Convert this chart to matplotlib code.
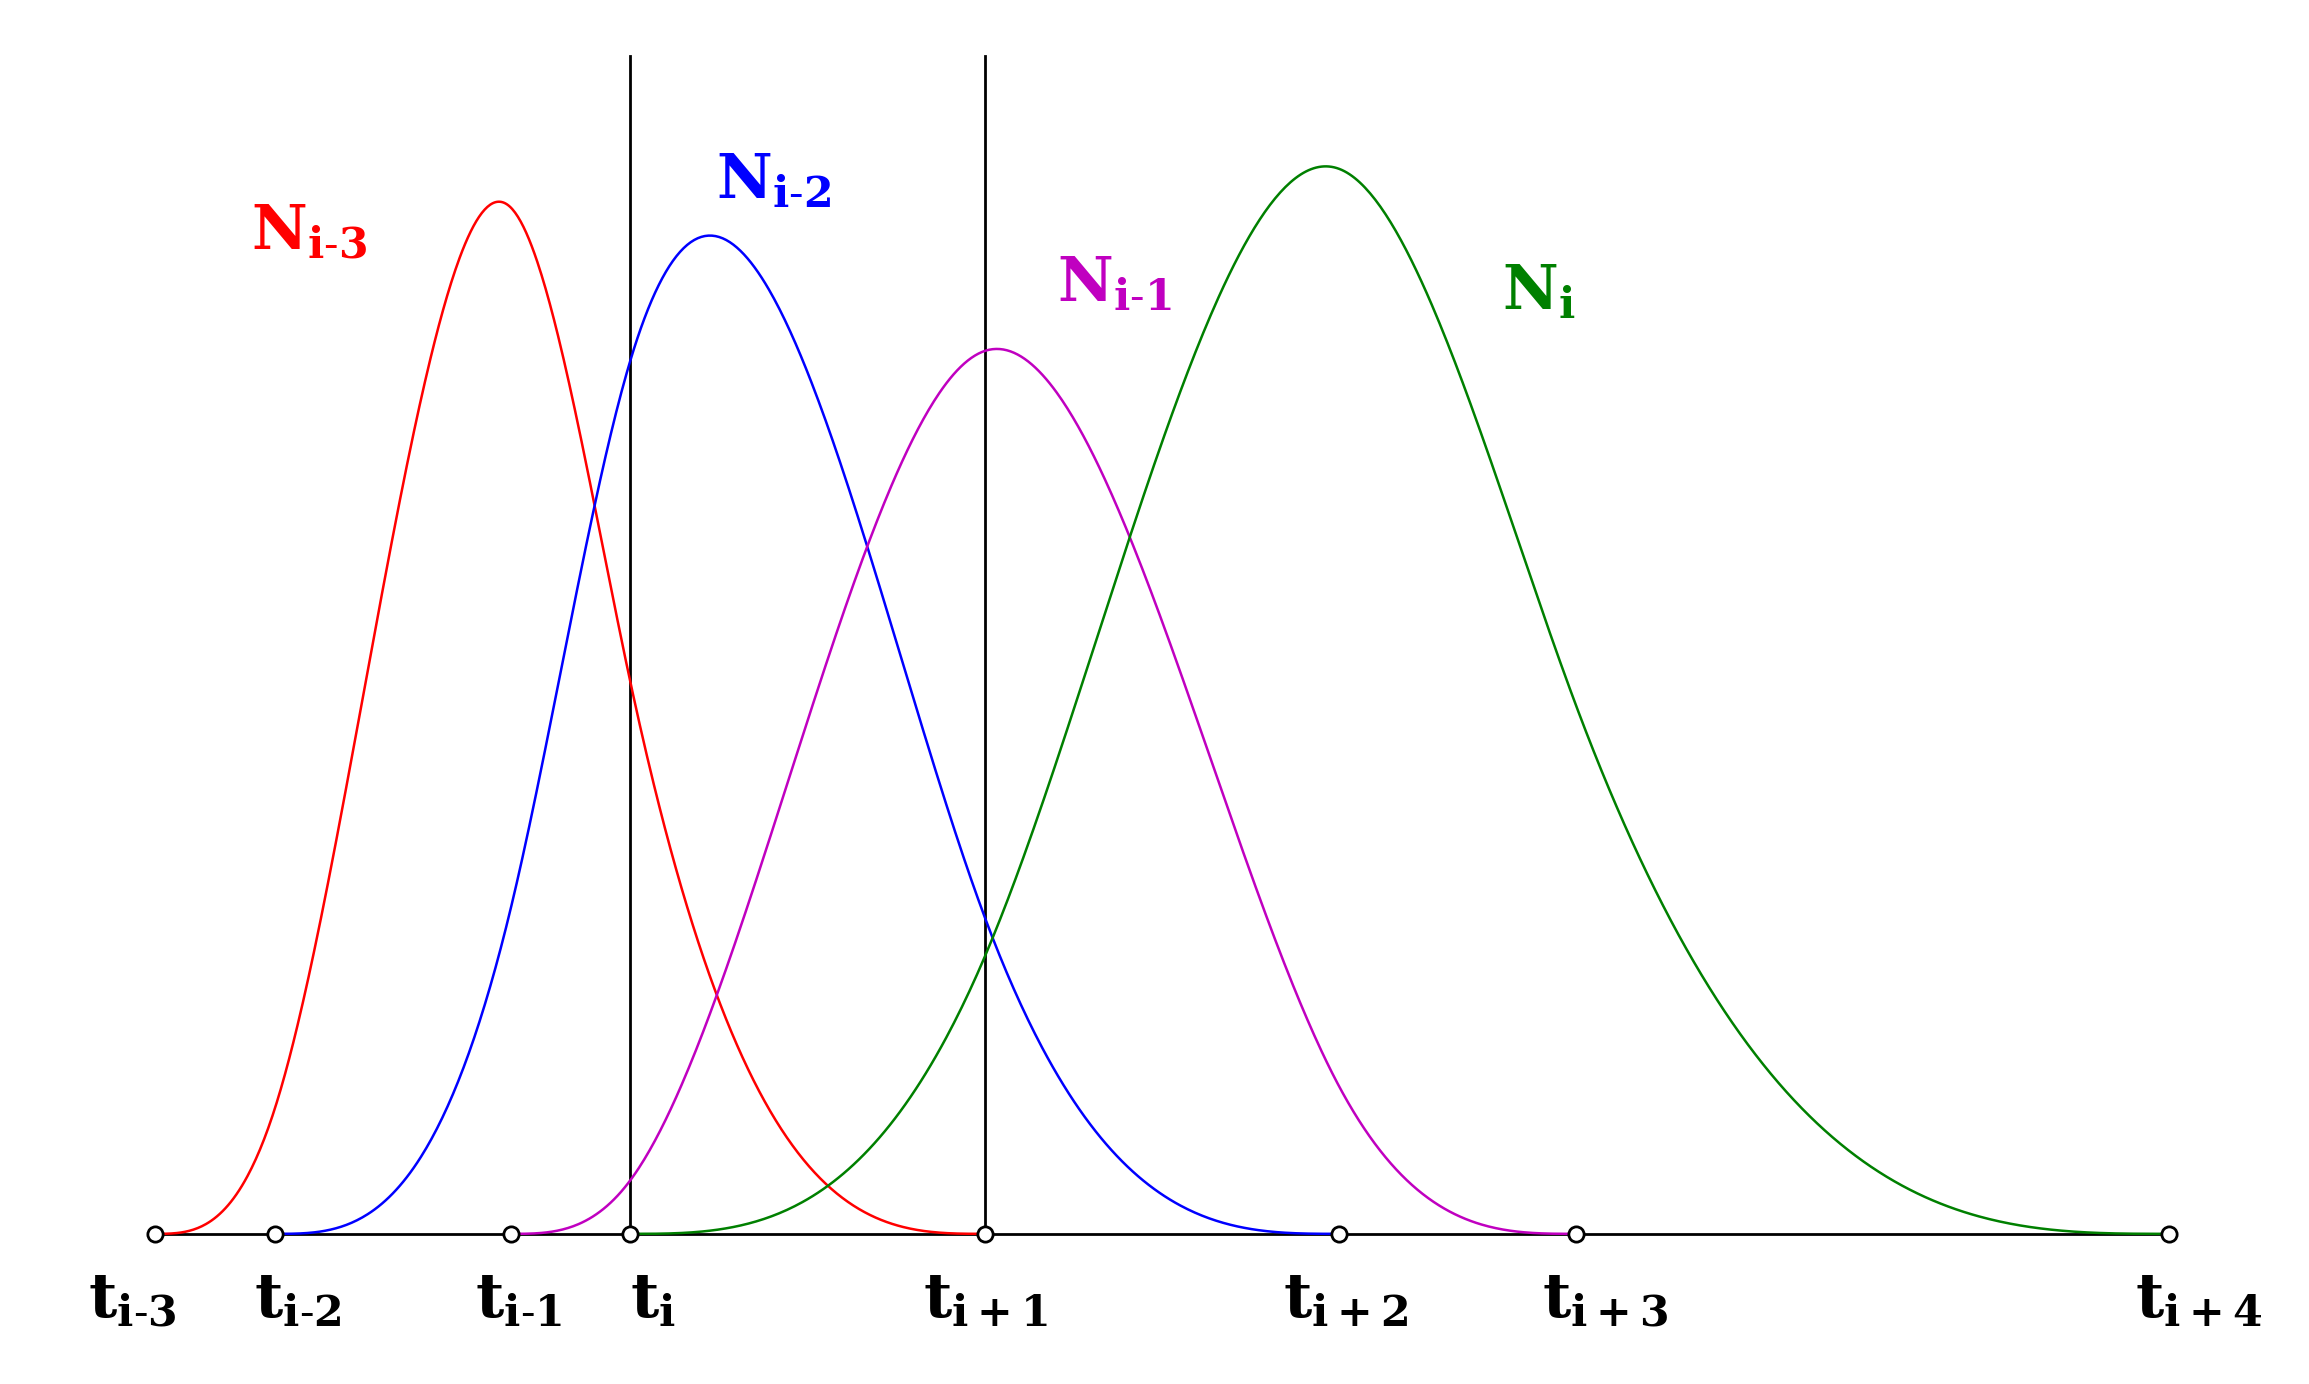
import numpy as np
import matplotlib.pyplot as plt

plt.rcParams['mathtext.fontset'] = 'dejavuserif'

# knot positions (picture units) and labels
knots = [105, 187, 347, 428, 669, 909, 1070, 1473]
knot_labels = ['i-3', 'i-2', 'i-1', 'i', 'i+1', 'i+2', 'i+3', 'i+4']
label_shift = [-15, 15, 5, 0, 0, 5, 20, 20]
# basis names, peak heights, colours, label positions
basis_names = ['i-3', 'i-2', 'i-1', 'i']
peak_heights = [701, 678, 601, 725]
colors = ['#ff0000', '#0000ff', '#c000c0', '#008000']
name_pos = [(210, 680), (525, 715), (757, 645), (1045, 640)]


def bspline(t, k, x):
    # Cox-de Boor, degree 3, support t[k]..t[k+4]
    def N(j, p):
        if p == 0:
            return ((x >= t[j]) & (x < t[j + 1])).astype(float)
        a = (x - t[j]) / (t[j + p] - t[j]) * N(j, p - 1)
        b = (t[j + p + 1] - x) / (t[j + p + 1] - t[j + 1]) * N(j + 1, p - 1)
        return a + b
    return N(k, 3)


fig = plt.figure(figsize=(23.09, 13.84), dpi=100)
ax = fig.add_axes([0, 0, 1, 1])
ax.set_xlim(0, 1568)
ax.set_ylim(-102, 838)
ax.axis('off')

ax.plot([knots[0], knots[-1]], [0, 0], color='black', lw=2)
for xv in (knots[3], knots[4]):
    ax.plot([xv, xv], [0, 800], color='black', lw=2)

for k in range(4):
    x = np.linspace(knots[k], knots[k + 4], 600)
    y = bspline(knots, k, x)
    y[-1] = 0
    y = y / y.max() * peak_heights[k]
    ax.plot(x, y, color=colors[k], lw=1.8)
    px, py = name_pos[k]
    ax.text(px, py, r'$\mathbf{N}_{\mathbf{' + basis_names[k].replace('-', '\\text{-}') + '}}$',
            color=colors[k], fontsize=44, ha='center', va='center')

ax.plot(knots, [0] * len(knots), 'o', mfc='white', mec='black', ms=11, mew=2)
for xv, lab, dx in zip(knots, knot_labels, label_shift):
    ax.text(xv + dx, -45, r'$\mathbf{t}_{\mathbf{' + lab.replace('-', '\\text{-}') + '}}$',
            fontsize=44, ha='left' if lab == 'i' else 'center', va='center')

fig.savefig('out.png')
